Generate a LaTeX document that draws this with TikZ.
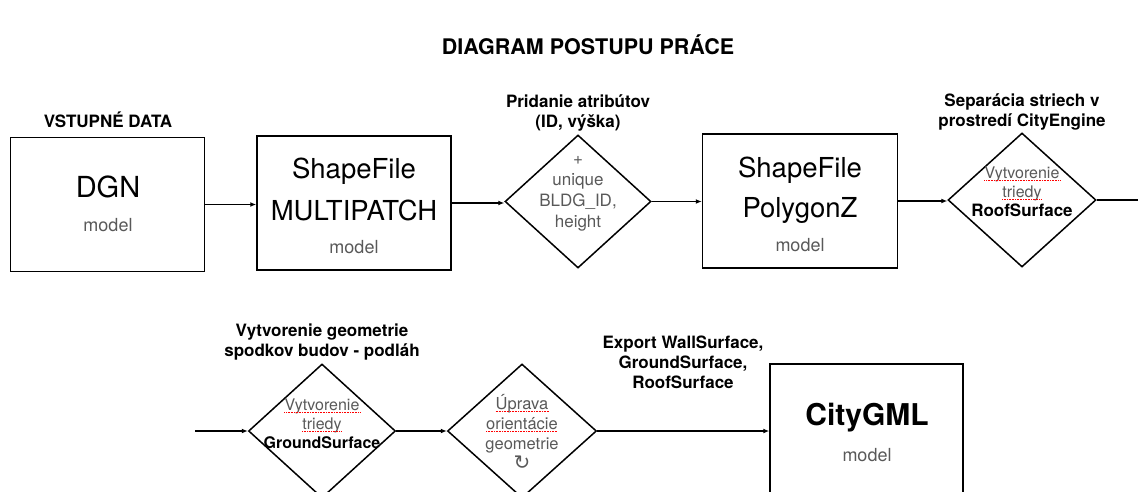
\documentclass[tikz,border=0pt]{standalone}
\usepackage{fontspec}
\setmainfont{TeX Gyre Heros}
\newfontfamily\symfont{DejaVu Sans}
\usetikzlibrary{arrows.meta, shapes.geometric}

\definecolor{txtgray}{gray}{0.35}
\newcommand{\spellmark}[1]{\tikz[baseline=(spellw.base)]{\node[inner sep=0pt, text=txtgray] (spellw) {#1};
  \draw[red, densely dotted, line width=0.6pt] ([yshift=-2pt]spellw.base west) -- ([yshift=-2pt]spellw.base east);}}

\tikzset{
  box/.style={draw, line width=1.5pt, minimum width=194pt, minimum height=134pt, inner sep=0pt},
  decision/.style={draw, diamond, line width=1.5pt, minimum width=147pt, minimum height=134pt, inner sep=0pt},
  flow/.style={line width=1.5pt, -{Latex[length=6pt,width=5pt]}},
  head/.style={font=\bfseries\fontsize{17}{20}\selectfont, align=center},
  bigtxt/.style={font=\fontsize{27.5}{30}\selectfont},
  small/.style={font=\fontsize{18}{20}\selectfont, text=txtgray, align=center},
}

\begin{document}
\begin{tikzpicture}[x=1pt,y=-1pt]
\useasboundingbox (0,0) rectangle (1138,492);
\clip (0,0) rectangle (1138,492);

\node[font=\bfseries\fontsize{21.5}{24}\selectfont] (title) at (588,45) {DIAGRAM POSTUPU PRÁCE};

%% first row
\node[box] (dgn) at (107.5,204.5) {};
\node[box] (mpatch) at (354,203) {};
\node[decision, minimum width=146pt, minimum height=133pt] (attr) at (578,201.5) {};
\node[box, minimum width=195pt] (polyz) at (800,201) {};
\node[decision, minimum width=148pt] (roof) at (1022,200) {};
\coordinate (rowend) at (1138,200);

\node[head] (inlbl) at (108,120) {VSTUPNÉ DATA};
\node[head] (attrlbl) at (578,112.5) {Pridanie atribútov\\(ID, výška)};
\node[head] (rooflbl) at (1022,112) {Separácia striech v\\prostredí CityEngine};

\node[font=\fontsize{29}{30}\selectfont] (dgnname) at (108,187) {DGN};
\node[small] (dgnmodel) at (108,225) {model};

\node[bigtxt] (mpname) at (354,171) {ShapeFile};
\node[bigtxt] (mpname2) at (354,210) {MULTIPATCH};
\node[small] (mpmodel) at (354,247) {model};

\node[small, font=\fontsize{17}{21}\selectfont] (attrtxt) at (578,194) {+\\unique\\BLDG\_ID,\\height};

\node[bigtxt] (pzname) at (800,170) {ShapeFile};
\node[bigtxt] (pzname2) at (800,210) {PolygonZ};
\node[small] (pzmodel) at (800,245) {model};

\node[small, font=\fontsize{16}{19}\selectfont] (rooftxt) at (1022,192)
  {\spellmark{Vytvorenie}\\\spellmark{triedy}\\\textcolor{black}{\fontsize{17}{19}\selectfont\bfseries RoofSurface}};

\draw[flow] (dgn.east) -- (dgn.east -| mpatch.west);
\draw[flow] (mpatch.east) -- (mpatch.east -| attr.west);
\draw[flow] (attr.east) -- (attr.east -| polyz.west);
\draw[flow] (polyz.east) -- (polyz.east -| roof.west);
\draw[line width=1.5pt] (roof.east) -- (rowend);

%% second row
\coordinate (rowstart) at (195,431);
\node[decision] (ground) at (322,431) {};
\node[decision, minimum width=149pt] (orient) at (522,431) {};
\node[box, minimum width=193pt, minimum height=200pt, anchor=north] (citygml) at (866.5,363) {};

\node[head] (groundlbl) at (322,342) {Vytvorenie geometrie\\spodkov budov - podláh};
\node[head] (exportlbl) at (683,362) {Export WallSurface,\\GroundSurface,\\RoofSurface};

\node[small, font=\fontsize{16}{19}\selectfont] (groundtxt) at (322,424)
  {\spellmark{Vytvorenie}\\\spellmark{triedy}\\\textcolor{black}{\bfseries GroundSurface}};
\node[small, font=\fontsize{16.5}{20}\selectfont] (orienttxt) at (522,432)
  {\spellmark{Úprava}\\\spellmark{orientácie}\\geometrie\\{\symfont\fontsize{20}{20}\selectfont ↻}};

\node[font=\bfseries\fontsize{30}{32}\selectfont] (gmlname) at (867,418) {CityGML};
\node[small] (gmlmodel) at (867,455) {model};

\draw[flow] (rowstart) -- (ground.west);
\draw[flow] (ground.east) -- (orient.west);
\draw[flow] (orient.east) -- (orient.east -| citygml.west);
\end{tikzpicture}
\end{document}
